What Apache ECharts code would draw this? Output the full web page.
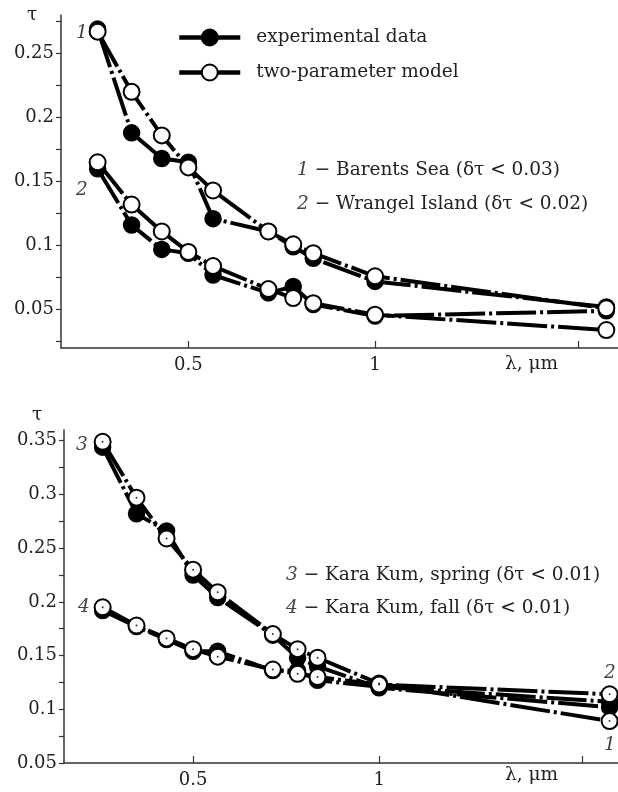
<!DOCTYPE html>
<html>
<head>
<meta charset="utf-8">
<script src="https://cdn.jsdelivr.net/npm/echarts@6/dist/echarts.min.js"></script>
<style>
  html, body { margin: 0; padding: 0; background: #fff; }
  #chart { width: 618px; height: 792px; }
</style>
</head>
<body>
<div id="chart"></div>
<script>
// wavelengths, um (same set in both panels)
const lambda = [0.357, 0.405, 0.453, 0.5, 0.548, 0.673, 0.738, 0.795, 1.0, 2.36]

// top panel: 1 - Barents Sea, 2 - Wrangel Island
const barentsExp = [0.269, 0.188, 0.168, 0.165, 0.121, 0.111, 0.099, 0.090, 0.072, 0.052]
const barentsModel = [0.267, 0.220, 0.186, 0.161, 0.143, 0.111, 0.101, 0.094, 0.076, 0.051]
const wrangelExp = [0.160, 0.116, 0.097, 0.094, 0.077, 0.063, 0.068, 0.054, 0.045, 0.049]
const wrangelModel = [0.165, 0.132, 0.111, 0.095, 0.084, 0.066, 0.059, 0.055, 0.046, 0.034]

// bottom panel: 3 - Kara Kum spring, 4 - Kara Kum fall
const springExp = [0.344, 0.282, 0.266, 0.225, 0.204, 0.169, 0.148, 0.140, 0.120, 0.102]
const springModel = [0.349, 0.297, 0.259, 0.230, 0.209, 0.170, 0.156, 0.148, 0.124, 0.089]
const fallExp = [0.192, 0.177, 0.165, 0.154, 0.154, 0.136, 0.136, 0.127, 0.121, 0.107]
const fallModel = [0.195, 0.178, 0.166, 0.156, 0.149, 0.137, 0.133, 0.130, 0.123, 0.114]

// axis ticks
const xLabelTicks = [0.5, 1]
const xTicks = [0.5, 1, 2.13]
const yLabelsTop = [0.05, 0.1, 0.15, 0.2, 0.25]
const yTicksTop = [0.025, 0.05, 0.075, 0.1, 0.125, 0.15, 0.175, 0.2, 0.225, 0.25, 0.275]
const yLabelsBottom = [0.05, 0.1, 0.15, 0.2, 0.25, 0.3, 0.35]
const yTicksBottom = [0.05, 0.075, 0.1, 0.125, 0.15, 0.175, 0.2, 0.225, 0.25, 0.275, 0.3, 0.325, 0.35]

const FONT = "DejaVu Serif"
const TXT = 18.5
const NUM = 18
const dash = [40, 4, 3, 4]

const toPts = (ys) => lambda.map((l, i) => [Math.log(l), ys[i]])

const xAxisCfg = (idx, min, max) => ({
  type: "value",
  gridIndex: idx,
  min: min,
  max: max,
  axisLine: { onZero: false, lineStyle: { color: "#333", width: 1.5 } },
  axisTick: { inside: true, length: 7, lineStyle: { color: "#333", width: 1.2 },
    customValues: xTicks.map((v) => Math.log(v)) },
  axisLabel: { customValues: xLabelTicks.map((v) => Math.log(v)), margin: 8,
    fontFamily: FONT, fontSize: NUM, color: "#222",
    formatter: (v) => String(Math.round(Math.exp(v) * 10) / 10) },
  splitLine: { show: false },
})

const yAxisCfg = (idx, min, max, labels, ticks) => ({
  type: "value",
  gridIndex: idx,
  min: min,
  max: max,
  axisLine: { show: true, onZero: false, lineStyle: { color: "#333", width: 1.5 } },
  axisTick: { show: true, length: 5, lineStyle: { color: "#333", width: 1.2 }, customValues: ticks },
  axisLabel: { customValues: labels, margin: 7, fontFamily: FONT, fontSize: NUM, color: "#222" },
  splitLine: { show: false },
})

const expSeries = (name, data, idx) => ({
  name: name,
  type: "line",
  xAxisIndex: idx,
  yAxisIndex: idx,
  data: toPts(data),
  symbol: "circle",
  symbolSize: 16,
  itemStyle: { color: "#000", borderColor: "#000", borderWidth: 1.5 },
  lineStyle: { color: "#000", width: 4, type: dash },
  z: 2,
})

const modelSeries = (name, data, idx) => ({
  name: name,
  type: "line",
  xAxisIndex: idx,
  yAxisIndex: idx,
  data: toPts(data),
  symbol: "circle",
  symbolSize: 16,
  itemStyle: { color: "#fff", borderColor: "#000", borderWidth: 2 },
  lineStyle: { color: "#000", width: 4, type: dash },
  z: 3,
})

const centerDots = (data) => ({
  type: "scatter",
  xAxisIndex: 1,
  yAxisIndex: 1,
  data: toPts(data),
  symbolSize: 2,
  itemStyle: { color: "#000" },
  silent: true,
  z: 4,
})

const txt = (x, y, s, opts = {}) => ({
  type: "text",
  left: x,
  top: y,
  style: Object.assign({ text: s, font: `${TXT}px "${FONT}"`, fill: "#222", textVerticalAlign: "top" }, opts),
})

const note = (x, y, num, rest) => ({
  type: "text",
  left: x,
  top: y - 12,
  style: {
    text: `{n|${num}} − ${rest}`,
    font: `${TXT}px "${FONT}"`,
    fill: "#222",
    rich: { n: { fontFamily: FONT, fontStyle: "italic", fontSize: TXT, fill: "#444" } },
  },
})

const italic = (x, y, s) => txt(x, y - 11, s, { font: `italic ${TXT}px "${FONT}"`, fill: "#444" })

const chart = echarts.init(document.getElementById("chart"), null, { renderer: "canvas" })

chart.setOption({
  animation: false,
  backgroundColor: "#fff",
  grid: [
    { left: 61, top: 15, width: 557, height: 333 },
    { left: 64, top: 430, width: 554, height: 333 },
  ],
  xAxis: [xAxisCfg(0, -1.166, 0.902), xAxisCfg(1, -1.174, 0.89)],
  yAxis: [
    yAxisCfg(0, 0.02, 0.28, yLabelsTop, yTicksTop),
    yAxisCfg(1, 0.05, 0.36, yLabelsBottom, yTicksBottom),
  ],
  legend: {
    data: ["experimental data", "two-parameter model"],
    orient: "vertical",
    left: 172,
    top: 23,
    itemWidth: 61,
    itemHeight: 20,
    itemGap: 16,
    lineStyle: { type: "solid", width: 4.5 },
    textStyle: { fontFamily: FONT, fontSize: TXT, color: "#222", padding: [0, 0, 0, 11] },
  },
  series: [
    expSeries("experimental data", barentsExp, 0),
    expSeries("experimental data", wrangelExp, 0),
    modelSeries("two-parameter model", barentsModel, 0),
    modelSeries("two-parameter model", wrangelModel, 0),
    expSeries("spring exp", springExp, 1),
    expSeries("fall exp", fallExp, 1),
    modelSeries("spring model", springModel, 1),
    modelSeries("fall model", fallModel, 1),
    centerDots(springModel),
    centerDots(fallModel),
  ],
  graphic: [
    txt(27, 6, "τ"),
    txt(505, 355, "λ, μm"),
    txt(32, 406, "τ"),
    txt(505, 766, "λ, μm"),
    italic(76, 35, "1"),
    italic(76, 192, "2"),
    italic(76, 447, "3"),
    italic(78, 609, "4"),
    italic(604, 675, "2"),
    italic(604, 747, "1"),
    note(297, 173, "1", "Barents Sea (δτ < 0.03)"),
    note(297, 207, "2", "Wrangel Island (δτ < 0.02)"),
    note(286, 578, "3", "Kara Kum, spring (δτ < 0.01)"),
    note(286, 611, "4", "Kara Kum, fall (δτ < 0.01)"),
  ],
})
</script>
</body>
</html>
